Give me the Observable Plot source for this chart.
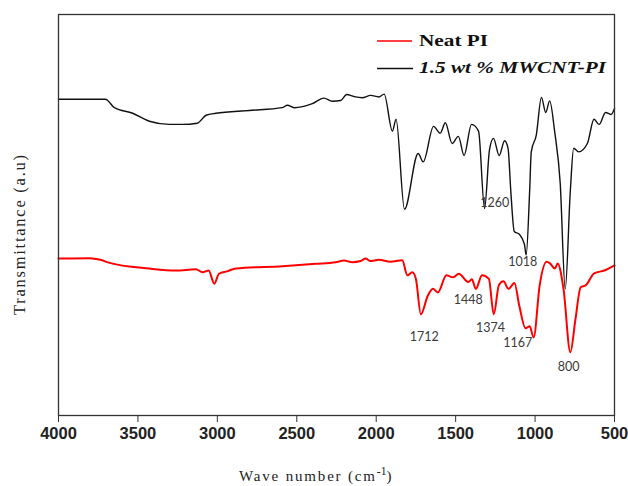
<!DOCTYPE html>
<html>
<head>
<meta charset="utf-8">
<script src="https://cdn.jsdelivr.net/npm/d3@7"></script>
<script src="https://cdn.jsdelivr.net/npm/@observablehq/plot@0.6"></script>
<style>
  html, body { margin: 0; padding: 0; background: #fff; }
  #chart { position: relative; width: 628px; height: 486px; }
</style>
</head>
<body>
<div id="chart"></div>
<script>
// Wavenumber ticks
const xTicks = [4000, 3500, 3000, 2500, 2000, 1500, 1000, 500];

// 1.5 wt % MWCNT-PI (black) — wavenumber (cm^-1) and transmittance (a.u.)
const blackWn = [4000, 3800, 3705, 3648, 3533, 3428, 3302, 3220, 3126, 3071, 3009, 2800, 2592, 2559, 2517, 2402, 2329, 2277, 2224, 2186, 2140, 2088, 2035, 1983, 1950, 1898, 1875, 1822, 1736, 1704, 1639, 1597, 1565, 1522, 1483, 1447, 1400, 1356, 1318, 1287, 1262, 1226, 1192, 1170, 1153, 1131, 1099, 1067, 1056, 1034, 1024, 992, 960, 933, 908, 877, 842, 810, 778, 757, 726, 671, 629, 597, 556, 522, 500];
const blackT  = [78.4, 78.4, 78.4, 76.3, 74.9, 72.9, 72.1, 72.1, 72.4, 74.4, 74.9, 75.6, 76.3, 76.9, 76.3, 77.3, 78.7, 77.9, 78.1, 79.6, 79.1, 78.8, 79.4, 79.0, 79.7, 70.4, 73.4, 50.8, 64.8, 62.7, 71.6, 69.9, 72.5, 67.3, 69.1, 64.3, 72.1, 70.4, 51.0, 65.7, 68.6, 64.3, 68.0, 66.1, 55.5, 45.2, 44.5, 42.0, 39.3, 55.5, 65.2, 69.5, 78.9, 75.1, 78.0, 70.4, 57.5, 30.8, 55.5, 66.1, 65.2, 67.3, 73.4, 72.1, 75.1, 74.6, 76.1];

// Neat PI (red)
const redWn = [4000, 3800, 3737, 3684, 3428, 3260, 3135, 3093, 3055, 3019, 2990, 2940, 2883, 2590, 2380, 2255, 2203, 2150, 2098, 2066, 2039, 1983, 1911, 1836, 1804, 1772, 1750, 1719, 1676, 1643, 1612, 1558, 1516, 1480, 1420, 1398, 1373, 1334, 1291, 1260, 1228, 1199, 1167, 1130, 1099, 1060, 1034, 1009, 971, 928, 906, 875, 858, 821, 778, 746, 713, 681, 628, 564, 500];
const redT  = [38.4, 38.5, 38.1, 37.4, 35.9, 35.4, 35.7, 35.0, 35.4, 32.1, 34.6, 35.2, 35.9, 36.5, 37.1, 37.5, 37.9, 37.5, 37.8, 38.4, 37.8, 38.1, 37.6, 38.0, 34.2, 35.0, 33.3, 24.4, 29.0, 30.8, 29.9, 34.2, 33.7, 34.6, 32.5, 33.2, 30.8, 34.2, 33.3, 24.4, 31.7, 32.7, 30.8, 32.3, 26.5, 20.9, 21.4, 18.6, 31.7, 37.6, 37.2, 35.9, 37.2, 30.8, 14.9, 23.1, 31.2, 31.7, 34.7, 35.4, 36.7];

// Peak annotations (label, position in wavenumber / transmittance)
const peakLabels = ["1260", "1018", "1712", "1448", "1374", "1167", "800"];
const peakWn     = [1254, 1078, 1698, 1420, 1281, 1109, 789];
const peakT      = [52.3, 37.6, 18.6, 28.0, 20.9, 17.3, 11.3];

const seriesNames = ["Neat PI", "1.5 wt % MWCNT-PI"];
const seriesColors = ["#ff0000", "#111111"];

const black = blackWn.map((w, i) => ({wn: w, t: blackT[i]}));
const red = redWn.map((w, i) => ({wn: w, t: redT[i]}));
const peaks = peakLabels.map((l, i) => ({label: l, wn: peakWn[i], t: peakT[i]}));

const plot = Plot.plot({
  width: 628,
  height: 486,
  marginLeft: 58,
  marginRight: 14,
  marginTop: 14,
  marginBottom: 71,
  x: {domain: [4000, 500]},
  y: {domain: [-1.0, 99.7], axis: null},
  style: {background: "white", color: "#222"},
  marks: [
    Plot.axisX({ticks: xTicks, tickSize: 7, tickPadding: 5, tickFormat: d => String(d),
      fontSize: 16.5, fontWeight: "bold", fontFamily: "'Liberation Sans', Arial, sans-serif",
      label: null, stroke: "#333", fill: "#222"}),
    Plot.line(black, {x: "wn", y: "t", stroke: seriesColors[1], strokeWidth: 1.4, curve: "monotone-x"}),
    Plot.line(red, {x: "wn", y: "t", stroke: seriesColors[0], strokeWidth: 2, curve: "monotone-x"}),
    Plot.text(peaks, {x: "wn", y: "t", text: "label", fontSize: 12.5,
      fontFamily: "Lato, 'Open Sans', sans-serif", fill: "#3a3a3a"}),
    Plot.frame({stroke: "#333", strokeWidth: 1.3})
  ]
});

document.getElementById("chart").appendChild(plot);

// Axis titles and legend added to the SVG
const svg = d3.select(plot);
const serif = "'Liberation Serif', 'Times New Roman', serif";

const xl = svg.append("text")
  .attr("x", 239).attr("y", 481)
  .attr("text-anchor", "start")
  .attr("font-family", serif).attr("font-size", 15).attr("fill", "#222");
xl.append("tspan").attr("textLength", 136).attr("lengthAdjust", "spacing").text("Wave number (cm");
xl.append("tspan").attr("dy", -6).attr("font-size", 11.5).text("-1");
xl.append("tspan").attr("dy", 6).text(")");

svg.append("text")
  .attr("transform", "translate(25,235) rotate(-90)")
  .attr("text-anchor", "middle")
  .attr("font-family", serif).attr("font-size", 16.5).attr("fill", "#222")
  .attr("textLength", 160).attr("lengthAdjust", "spacing")
  .text("Transmittance (a.u)");

const lg = svg.append("g");
const legendY = [41, 68.5];
const legendW = [69, 187];
seriesNames.forEach((name, i) => {
  lg.append("line")
    .attr("x1", 377).attr("x2", i === 0 ? 412 : 413)
    .attr("y1", legendY[i]).attr("y2", legendY[i])
    .attr("stroke", seriesColors[i]).attr("stroke-width", 1.5);
  lg.append("text")
    .attr("x", 419).attr("y", legendY[i] + 4.5)
    .attr("text-anchor", "start")
    .attr("font-family", serif).attr("font-size", 17.5)
    .attr("font-weight", "bold")
    .attr("font-style", i === 1 ? "italic" : "normal")
    .attr("fill", "#111")
    .attr("textLength", legendW[i]).attr("lengthAdjust", "spacingAndGlyphs")
    .text(name);
});
</script>
</body>
</html>
